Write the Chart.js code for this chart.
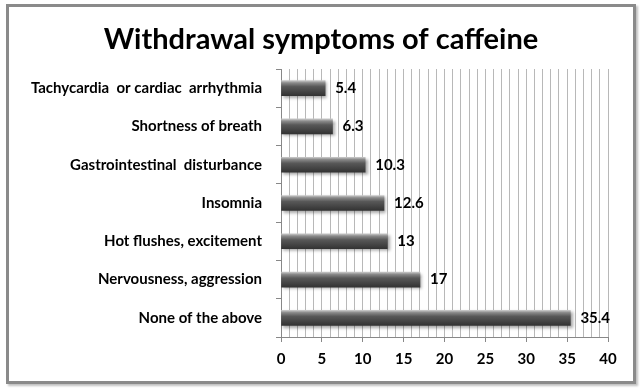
<!DOCTYPE html>
<html>
<head>
<meta charset="utf-8">
<script src="https://cdn.jsdelivr.net/npm/chart.js@4"></script>
<style>
  body { margin: 0; background: #fff; }
  #wrap { position: relative; width: 640px; height: 389px; }
  #frame {
    position: absolute; left: 6px; top: 4px; width: 624px; height: 374px;
    border: 3px solid #8a8a8a; box-shadow: 2px 2px 2px rgba(0,0,0,0.25);
  }
  canvas { position: absolute; left: 0; top: 0; }
</style>
</head>
<body>
<div id="wrap">
  <div id="frame"></div>
  <canvas id="symptomsChart" width="640" height="389"></canvas>
</div>
<script>
const chartTitle = 'Withdrawal symptoms of caffeine';
const symptoms = [
  'Tachycardia  or cardiac  arrhythmia',
  'Shortness of breath',
  'Gastrointestinal  disturbance',
  'Insomnia',
  'Hot flushes, excitement',
  'Nervousness, aggression',
  'None of the above'
];
const percents = [5.4, 6.3, 10.3, 12.6, 13, 17, 35.4];
const xTicks = [0, 5, 10, 15, 20, 25, 30, 35, 40];

const FONT = 'Lato, "Open Sans", sans-serif';

// cylinder-ish grey gradient across each bar
function barFill(c) {
  const chart = c.chart;
  if (!chart.chartArea) return '#555';
  const y = chart.scales.y.getPixelForValue(c.dataIndex);
  const g = chart.ctx.createLinearGradient(0, y - 7.5, 0, y + 7.5);
  g.addColorStop(0, '#c8c8c8');
  g.addColorStop(0.15, '#8a8a8a');
  g.addColorStop(0.4, '#585858');
  g.addColorStop(1, '#333333');
  return g;
}

// title centred on the frame, not on the padded layout box
const frameTitle = {
  id: 'frameTitle',
  afterDraw(chart) {
    const ctx = chart.ctx;
    ctx.save();
    ctx.font = 'bold 29px ' + FONT;
    ctx.fillStyle = '#000';
    ctx.textAlign = 'center';
    ctx.textBaseline = 'middle';
    ctx.fillText(chartTitle, 321, 40);
    ctx.restore();
  }
};

const valueLabels = {
  id: 'valueLabels',
  beforeDatasetsDraw(chart) {
    const ctx = chart.ctx;
    ctx.save();
    ctx.shadowColor = 'rgba(0,0,0,0.35)';
    ctx.shadowOffsetX = 2;
    ctx.shadowOffsetY = 2;
    ctx.shadowBlur = 3;
  },
  afterDatasetsDraw(chart) {
    const ctx = chart.ctx;
    ctx.restore();
    ctx.save();
    ctx.font = 'bold 15px ' + FONT;
    ctx.fillStyle = '#000';
    ctx.textBaseline = 'middle';
    chart.getDatasetMeta(0).data.forEach((bar, i) => {
      ctx.fillText(String(percents[i]), bar.x + 10, bar.y);
    });
    ctx.restore();
  }
};

new Chart(document.getElementById('symptomsChart'), {
  type: 'bar',
  data: {
    labels: symptoms,
    datasets: [{
      data: percents,
      backgroundColor: barFill,
      borderWidth: 0,
      barThickness: 15
    }]
  },
  plugins: [valueLabels, frameTitle],
  options: {
    indexAxis: 'y',
    responsive: false,
    animation: false,
    layout: { padding: { left: 10, right: 32, top: 69, bottom: 10 } },
    plugins: {
      legend: { display: false },
      tooltip: { enabled: false },
      title: { display: false }
    },
    scales: {
      x: {
        min: 0,
        max: 40,
        ticks: {
          stepSize: 1,
          autoSkip: false,
          maxRotation: 0,
          color: '#000',
          padding: 8,
          font: { family: FONT, size: 15, weight: 'bold' },
          callback: v => xTicks.includes(v) ? v : ''
        },
        grid: {
          color: '#b8b8b8',
          tickLength: 5,
          tickColor: c => xTicks.includes(c.tick && c.tick.value) ? '#888' : 'rgba(0,0,0,0)'
        },
        border: { color: '#888', width: 1 },
        afterFit: s => { s.height = 42; }
      },
      y: {
        ticks: {
          color: '#000',
          padding: 14,
          font: { family: FONT, size: 15, weight: 'bold' }
        },
        grid: {
          offset: true,
          drawOnChartArea: false,
          tickLength: 5,
          tickColor: '#888'
        },
        border: { color: '#888', width: 1 },
        afterFit: s => { s.width = 271; }
      }
    }
  }
});
</script>
</body>
</html>
